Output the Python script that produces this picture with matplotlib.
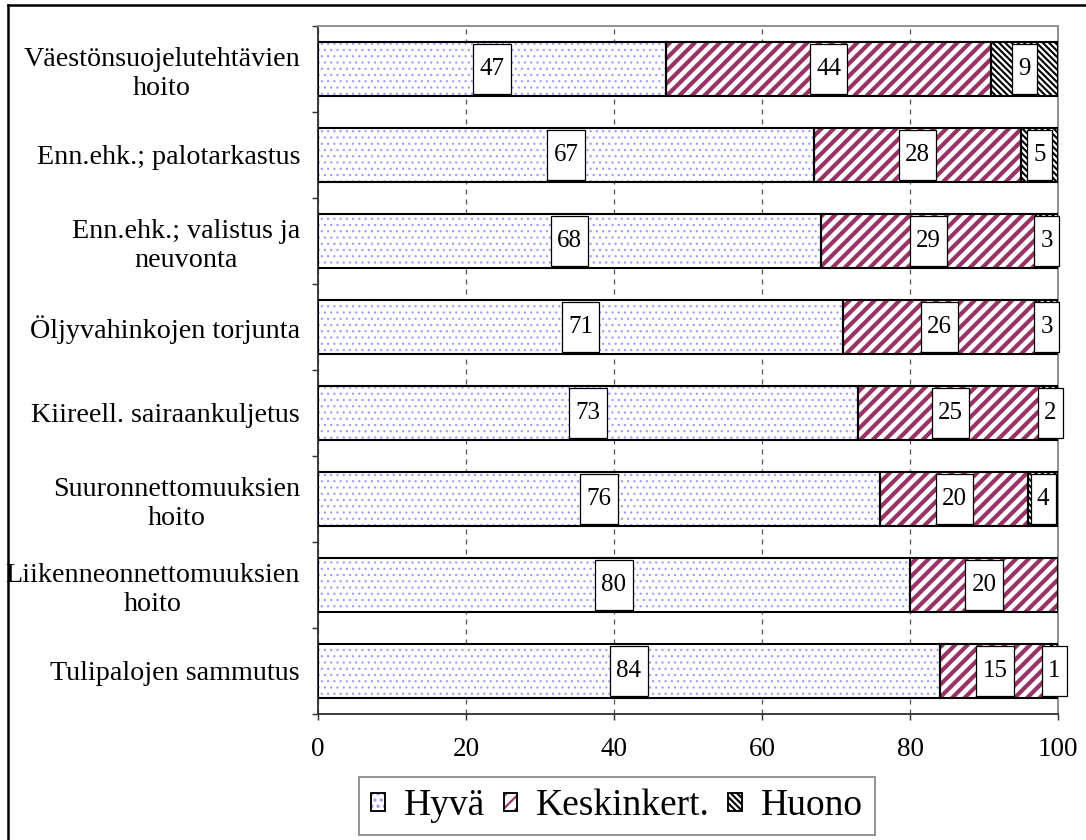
import matplotlib
matplotlib.use("Agg")
import matplotlib.pyplot as plt
import numpy as np
from matplotlib.path import Path
from matplotlib.patches import Patch
from matplotlib.lines import Line2D
from matplotlib.legend_handler import HandlerTuple

categories = [
    "Väestönsuojelutehtävien\nhoito",
    "Enn.ehk.; palotarkastus",
    "Enn.ehk.; valistus ja\nneuvonta",
    "Öljyvahinkojen torjunta",
    "Kiireell. sairaankuljetus",
    "Suuronnettomuuksien\nhoito",
    "Liikenneonnettomuuksien\nhoito",
    "Tulipalojen sammutus",
]
hyva = [47, 67, 68, 71, 73, 76, 80, 84]
keskinkert = [44, 28, 29, 26, 25, 20, 20, 15]
huono = [9, 5, 3, 3, 2, 4, 0, 1]
series_names = ["Hyvä", "Keskinkert.", "Huono"]
xticks = [0, 20, 40, 60, 80, 100]

plt.rcParams['font.family'] = ['Liberation Serif', 'DejaVu Serif']

DPI = 150
fig = plt.figure(figsize=(1086 / DPI, 840 / DPI), dpi=DPI)
ax = fig.add_axes([318 / 1086, 1 - 714 / 840, (1058 - 318) / 1086, (714 - 26) / 840])

styles = [
    dict(hatch='....', color='#9a9aff', hlw=0.5),
    dict(hatch='////', color='#993366', hlw=2.0),
    dict(hatch='\\' * 8, color='#000000', hlw=1.0),
]

y = np.arange(len(categories))
bar_h = 0.63


def tall_box(x0, y0, width, height, mutation_size):
    padx = 0.25 * mutation_size
    pady = 0.55 * mutation_size
    x0 -= padx
    y0 -= pady
    x1 = x0 + width + 2 * padx
    y1 = y0 + height + 2 * pady
    return Path([(x0, y0), (x1, y0), (x1, y1), (x0, y1), (x0, y0)],
                [Path.MOVETO, Path.LINETO, Path.LINETO, Path.LINETO, Path.CLOSEPOLY])


def make_hatched(st):
    with plt.rc_context({'hatch.linewidth': st['hlw']}):
        p = Patch(facecolor='white', edgecolor=st['color'], hatch=st['hatch'], linewidth=0)
    if hasattr(p, 'set_hatch_linewidth'):
        p.set_hatch_linewidth(st['hlw'])
    return p


left = np.zeros(len(categories))
handles = []
for vals, st, name in zip([hyva, keskinkert, huono], styles, series_names):
    vals = np.array(vals, dtype=float)
    with plt.rc_context({'hatch.linewidth': st['hlw']}):
        bars = ax.barh(y, vals, left=left, height=bar_h, color='white',
                       edgecolor=st['color'], hatch=st['hatch'], linewidth=0, zorder=2)
    for b in bars:
        if hasattr(b, 'set_hatch_linewidth'):
            b.set_hatch_linewidth(st['hlw'])
    ax.barh(y, vals, left=left, height=bar_h, fill=False, edgecolor='black',
            linewidth=1.0, zorder=3)
    for i, v in enumerate(vals):
        if v > 0:
            ax.text(left[i] + v / 2, y[i], f"{int(v)}", ha='center', va='center',
                    fontsize=12, zorder=5,
                    bbox=dict(boxstyle=tall_box, fc='white', ec='black', lw=0.6))
    hp = make_hatched(st)
    op = Patch(facecolor='none', edgecolor='black', linewidth=0.9)
    handles.append((hp, op))
    left = left + vals

ax.set_xlim(0, 100)
ax.set_ylim(len(categories) - 0.5, -0.5)
ax.set_xticks(xticks)
ax.set_xticklabels([str(t) for t in xticks])
ax.set_yticks(y)
ax.set_yticklabels(categories, multialignment='center', linespacing=1.2)
ax.set_yticks(np.arange(-0.5, len(categories), 1.0), minor=True)
ax.tick_params(axis='y', which='major', length=0, pad=8.6, labelsize=13.5)
ax.tick_params(axis='y', which='minor', length=3.0, width=0.7, color='#333333', direction='out')
ax.tick_params(axis='x', which='major', length=3.0, width=0.7, color='#333333',
               direction='out', pad=8.0, labelsize=13)

ax.set_axisbelow(True)
ax.xaxis.grid(True, linestyle=(0, (4, 4)), color='#555555', linewidth=0.6, zorder=0)

for s in ['left', 'bottom']:
    ax.spines[s].set_color('#333333')
    ax.spines[s].set_linewidth(0.9)
for s in ['top', 'right']:
    ax.spines[s].set_color('#8c8c8c')
    ax.spines[s].set_linewidth(0.9)

leg = fig.legend(handles, series_names, loc='center', ncol=3,
                 bbox_to_anchor=(617 / 1086, 1 - 806 / 840),
                 fontsize=18, handlelength=0.36, handleheight=0.36,
                 handletextpad=0.5, columnspacing=0.5, borderpad=0.32,
                 borderaxespad=0,
                 fancybox=False, edgecolor='#808080', framealpha=1,
                 handler_map={tuple: HandlerTuple(ndivide=1, pad=0)})
leg.get_frame().set_linewidth(0.8)

# outer frame (top and left edges visible)
fig.add_artist(Line2D([8 / 1086, 8 / 1086], [0, 1 - 5 / 840], transform=fig.transFigure,
                      color='black', linewidth=1.2))
fig.add_artist(Line2D([8 / 1086, 1], [1 - 5 / 840, 1 - 5 / 840], transform=fig.transFigure,
                      color='black', linewidth=1.2))

fig.savefig('out.png', dpi=DPI, facecolor='white')
